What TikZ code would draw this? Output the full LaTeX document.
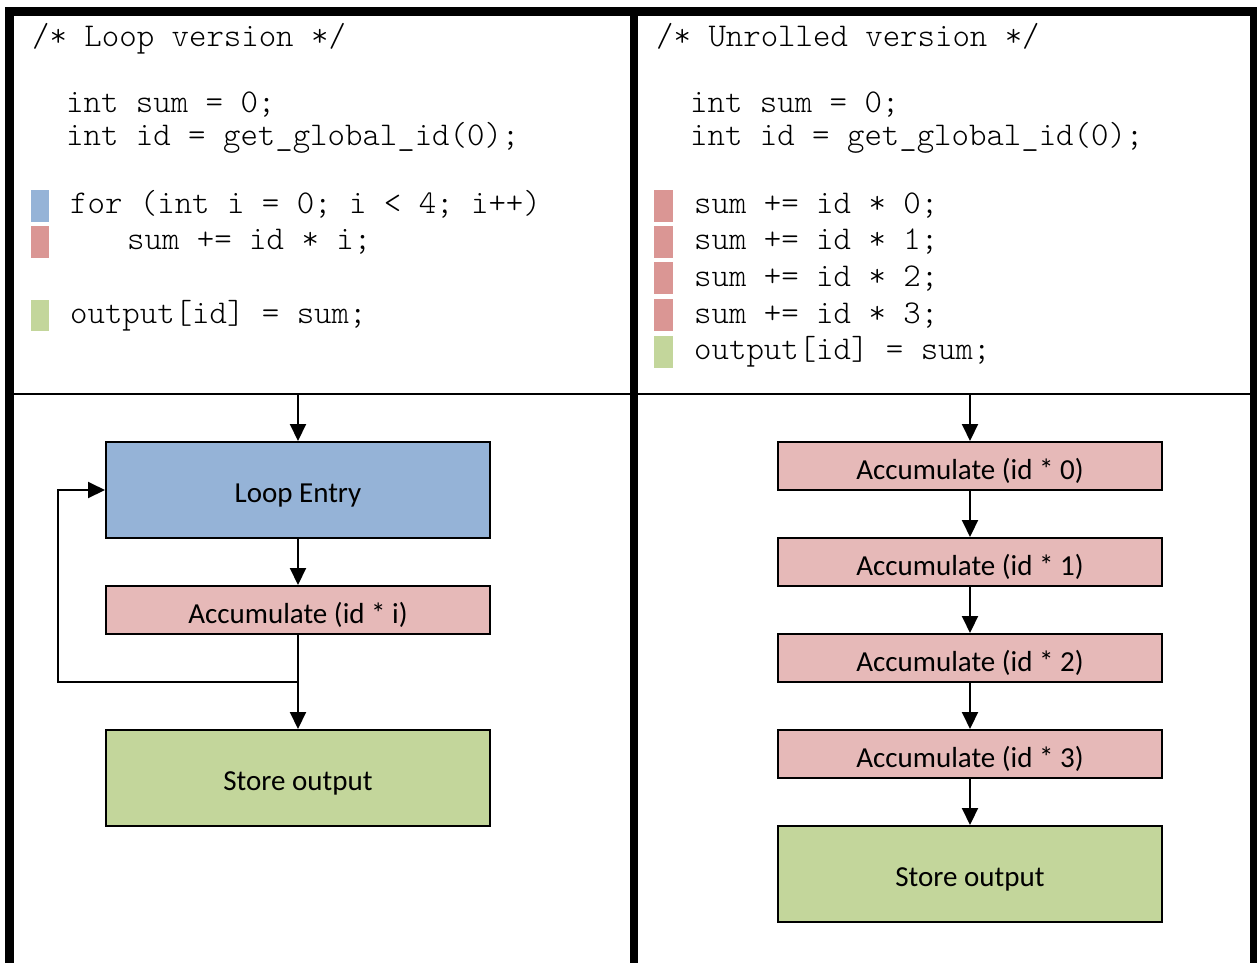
\documentclass[tikz,border=0pt]{standalone}
\usepackage{fontspec}
\newfontfamily\boxfont{Carlito}
\usetikzlibrary{arrows.meta}
\definecolor{blueF}{HTML}{95B3D7}
\definecolor{redF}{HTML}{E6B9B8}
\definecolor{redM}{HTML}{DA9694}
\definecolor{greenF}{HTML}{C3D69B}
\tikzset{
  code/.style={anchor=base west, inner sep=0pt, font=\ttfamily\fontseries{l}\fontsize{33.2}{33}\selectfont},
  fbox/.style={draw=black, line width=2pt, fill=#1, minimum width=384pt, inner sep=0pt, font=\boxfont\fontsize{29}{29}\selectfont},
  tall/.style={minimum height=96pt},
  short/.style={minimum height=48pt},
  boxlabel/.style 2 args={path picture={\node[inner sep=0pt, anchor=base] at ([yshift=-#1]path picture bounding box.center) {#2};}},
  arr/.style={line width=2pt, -{Triangle[length=17pt,width=16pt]}},
}
\begin{document}
\begin{tikzpicture}[x=1pt,y=-1pt]
\clip (0,0) rectangle (1257,962);
% frame
\draw[line width=9pt] (9,975) -- (9,11) -- (1254,11) -- (1254,975);
\draw[line width=8pt] (634,15) -- (634,975);
\draw[line width=2pt] (14,394) -- (1252,394);
\coordinate (topL) at (298,394);
\coordinate (topR) at (970,394);

% left code
\node[code] (l1) at (32,46) {/* Loop version */};
\node[code] (l2) at (66,112) {int sum = 0;};
\node[code] (l3) at (66,145) {int id = get\_global\_id(0);};
\node[code] (l4) at (70,213) {for (int i = 0; i < 4; i++)};
\node[code] (l5) at (127,249) {sum += id * i;};
\node[code] (l6) at (70,323) {output[id] = sum;};
\fill[blueF] (31,190) rectangle (49,222);
\fill[redM] (31,226) rectangle (49,258);
\fill[greenF] (31,300) rectangle (49,331);

% right code
\node[code] (r1) at (656,46) {/* Unrolled version */};
\node[code] (r2) at (690,112) {int sum = 0;};
\node[code] (r3) at (690,145) {int id = get\_global\_id(0);};
\node[code] (r4) at (694,213) {sum += id * 0;};
\node[code] (r5) at (694,249) {sum += id * 1;};
\node[code] (r6) at (694,286) {sum += id * 2;};
\node[code] (r7) at (694,323) {sum += id * 3;};
\node[code] (r8) at (694,359) {output[id] = sum;};
\fill[redM] (654,190) rectangle (673,222);
\fill[redM] (654,226) rectangle (673,258);
\fill[redM] (654,262) rectangle (673,294);
\fill[redM] (654,299) rectangle (673,331);
\fill[greenF] (654,336) rectangle (673,368);

% left flow
\node[fbox=blueF, tall, boxlabel={12pt}{Loop Entry}] (entry) at (298,490) {};
\node[fbox=redF, short, boxlabel={13pt}{Accumulate (id * i)}] (acc) at (298,610) {};
\node[fbox=greenF, tall, boxlabel={12pt}{Store output}] (store) at (298,778) {};
\coordinate (split) at (298,682);
\coordinate (back1) at (58,682);
\coordinate (back2) at (58,490);
\draw[arr] (topL) -- (entry.north);
\draw[arr] (entry.south) -- (acc.north);
\draw[arr] (acc.south) -- (store.north);
\draw[arr] (split) -- (back1) -- (back2) -- (entry.west);

% right flow
\node[fbox=redF, short, boxlabel={13pt}{Accumulate (id * 0)}] (a0) at (970,466) {};
\node[fbox=redF, short, boxlabel={13pt}{Accumulate (id * 1)}] (a1) at (970,562) {};
\node[fbox=redF, short, boxlabel={13pt}{Accumulate (id * 2)}] (a2) at (970,658) {};
\node[fbox=redF, short, boxlabel={13pt}{Accumulate (id * 3)}] (a3) at (970,754) {};
\node[fbox=greenF, tall, boxlabel={12pt}{Store output}] (store2) at (970,874) {};
\draw[arr] (topR) -- (a0.north);
\draw[arr] (a0.south) -- (a1.north);
\draw[arr] (a1.south) -- (a2.north);
\draw[arr] (a2.south) -- (a3.north);
\draw[arr] (a3.south) -- (store2.north);
\end{tikzpicture}
\end{document}
